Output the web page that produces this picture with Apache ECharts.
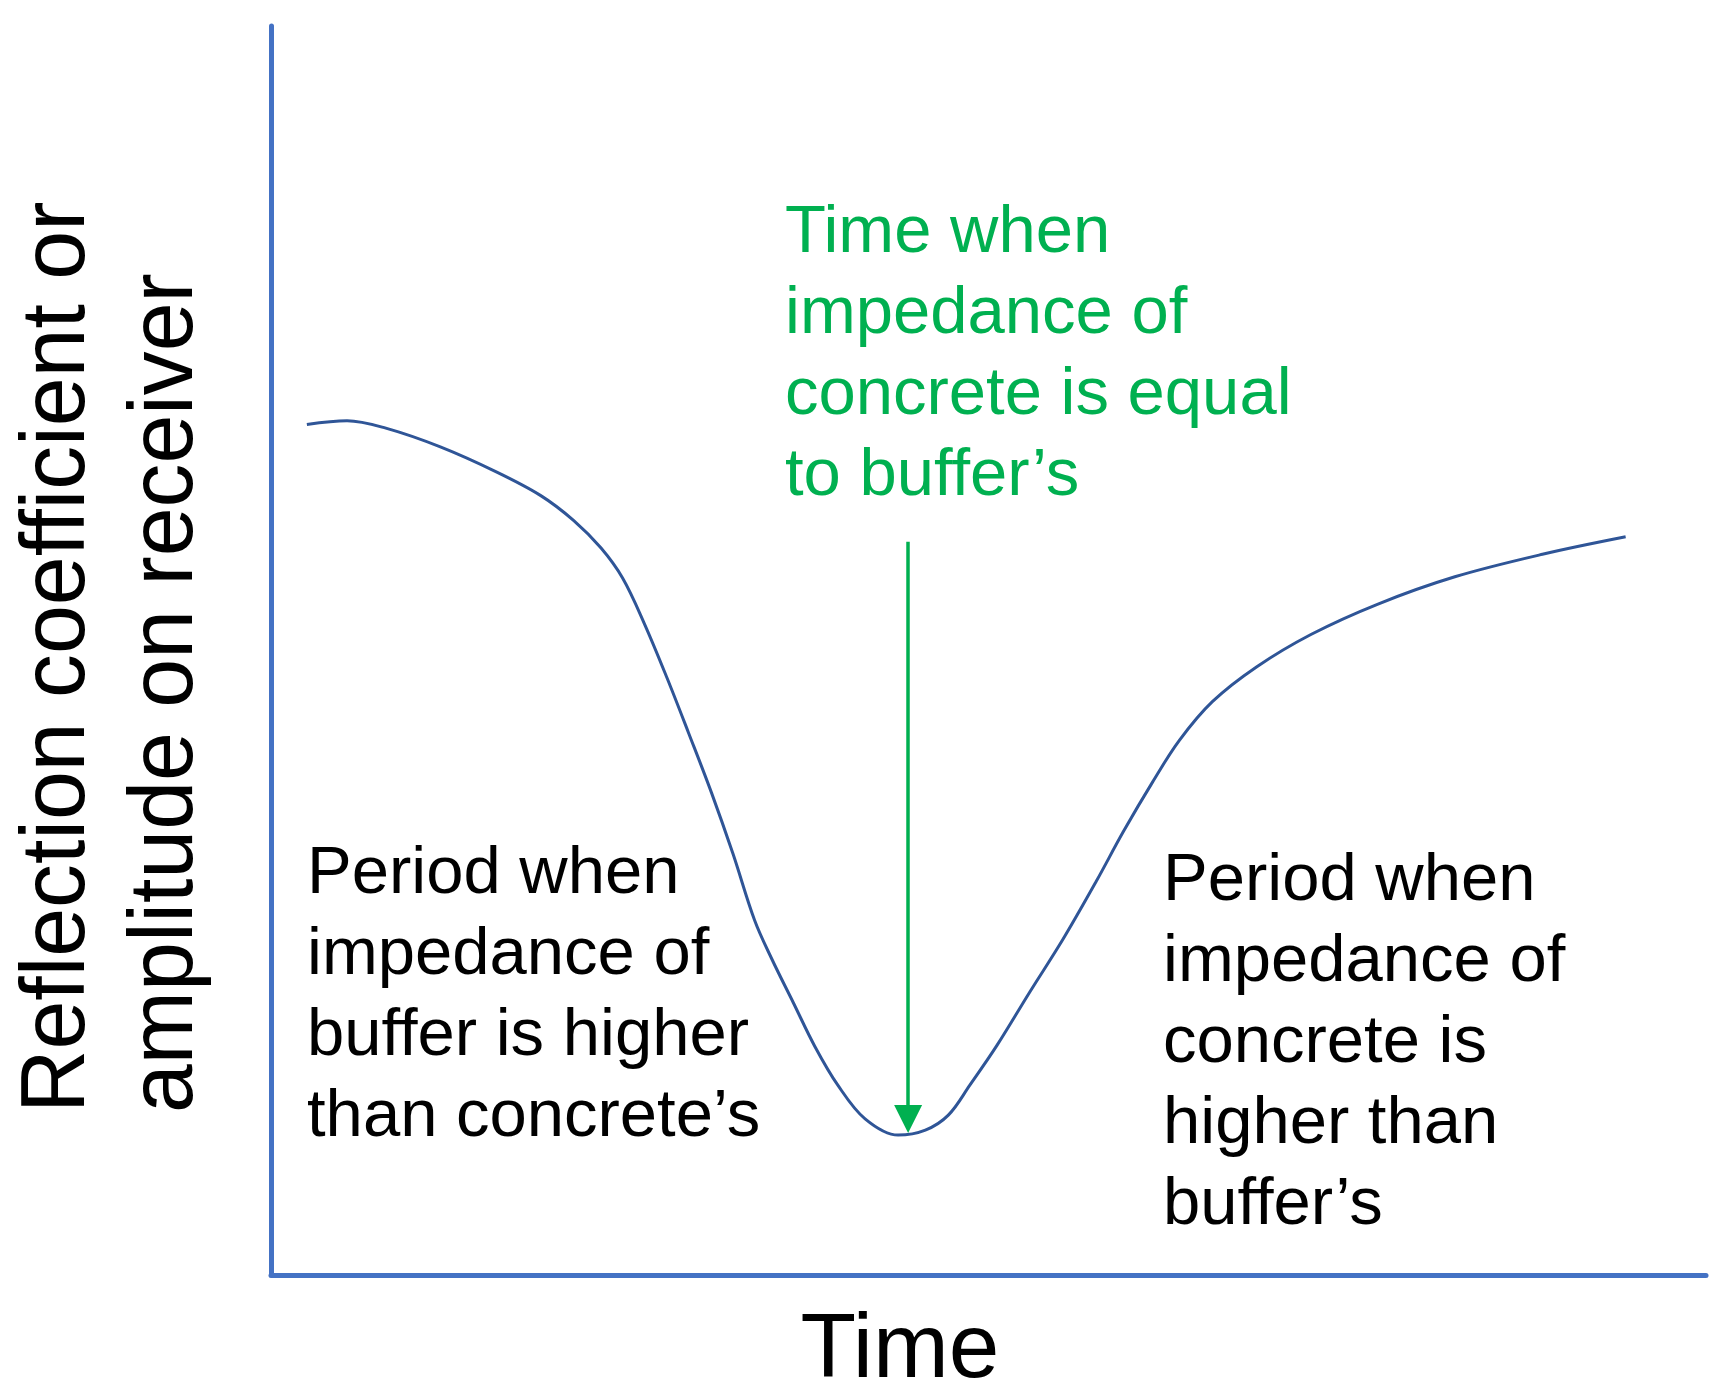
<!DOCTYPE html>
<html>
<head>
<meta charset="utf-8">
<title>Reflection coefficient vs time</title>
<script src="https://cdn.jsdelivr.net/npm/echarts@6/dist/echarts.min.js"></script>
<style>
  html, body { margin: 0; padding: 0; background: #fff; }
  #main { width: 1728px; height: 1400px; }
</style>
</head>
<body>
<div id="main"></div>
<script>
  // curve (time and amplitude in arbitrary units, 0-100)
  var timeVals = [2.5, 5.3, 8.0, 11.8, 15.7, 18.8, 21.1, 23.0, 24.5, 26.0, 27.6, 29.1, 30.7, 32.2, 33.7,
    34.9, 36.4, 37.9, 39.5, 41.4, 43.7, 45.6, 47.2, 48.7, 50.6, 52.9, 55.2, 57.5, 59.4, 61.4, 63.3,
    65.6, 68.7, 72.5, 77.1, 82.5, 88.6, 94.4]
  var ampVals = [68.1, 68.4, 67.8, 66.3, 64.3, 62.4, 60.4, 58.2, 55.8, 52.2, 47.8, 43.4, 38.6, 33.7, 28.4,
    25.3, 21.8, 18.3, 15.2, 12.5, 11.2, 11.6, 12.8, 15.2, 18.4, 22.7, 26.9, 31.5, 35.5, 39.4, 42.8,
    45.9, 48.7, 51.3, 53.7, 55.9, 57.7, 59.1]

  // green arrow: time where impedances match, from/to amplitude
  var arrowTime = 44.4
  var arrowFrom = 58.7
  var arrowTo = 12.5

  var yTitle = 'Reflection coefficient or\namplitude on receiver'
  var xTitle = 'Time'
  var noteEqual = 'Time when\nimpedance of\nconcrete is equal\nto buffer’s'
  var noteLeft = 'Period when\nimpedance of\nbuffer is higher\nthan concrete’s'
  var noteRight = 'Period when\nimpedance of\nconcrete is\nhigher than\nbuffer’s'

  var font = '"Liberation Sans", Arial, sans-serif'
  var axisBlue = '#4472C4'

  var points = timeVals.map(function (t, i) {
    return [t, ampVals[i]]
  })

  function note(text, x, y, color) {
    return {
      type: 'text',
      x: x,
      y: y,
      style: {
        text: text,
        fontFamily: font,
        fontSize: 67,
        lineHeight: 81,
        fill: color,
        align: 'left',
        verticalAlign: 'top',
      },
    }
  }

  var chart = echarts.init(document.getElementById('main'))

  var option = {
    animation: false,
    backgroundColor: '#fff',
    grid: {
      left: 271,
      right: 22,
      top: 26,
      bottom: 125,
    },
    xAxis: {
      type: 'value',
      min: 0,
      max: 100,
      axisLine: { show: true, lineStyle: { color: axisBlue, width: 5 } },
      axisTick: { show: false },
      axisLabel: { show: false },
      splitLine: { show: false },
    },
    yAxis: {
      type: 'value',
      min: 0,
      max: 100,
      axisLine: { show: true, lineStyle: { color: axisBlue, width: 5 } },
      axisTick: { show: false },
      axisLabel: { show: false },
      splitLine: { show: false },
    },
    series: [
      {
        type: 'line',
        data: points,
        smooth: 0.35,
        showSymbol: false,
        lineStyle: { color: '#2F5597', width: 3 },
        markLine: {
          silent: true,
          symbol: ['none', 'triangle'],
          symbolSize: [28, 28],
          label: { show: false },
          lineStyle: { color: '#00B050', width: 3.5, type: 'solid' },
          data: [
            [
              { coord: [arrowTime, arrowFrom] },
              { coord: [arrowTime, arrowTo] },
            ],
          ],
        },
      },
    ],
    graphic: [
      {
        type: 'text',
        x: 5,
        y: 1113,
        rotation: Math.PI / 2,
        scaleX: 0.976,
        style: {
          text: yTitle,
          fontFamily: font,
          fontSize: 90,
          lineHeight: 108,
          fill: '#000',
          align: 'left',
          verticalAlign: 'top',
        },
      },
      {
        type: 'text',
        x: 900,
        y: 1302,
        style: {
          text: xTitle,
          fontFamily: font,
          fontSize: 91,
          lineHeight: 100,
          fill: '#000',
          align: 'center',
          verticalAlign: 'top',
        },
      },
      note(noteEqual, 785, 193, '#00B050'),
      note(noteLeft, 307, 834, '#000'),
      note(noteRight, 1163, 841, '#000'),
    ],
  }

  chart.setOption(option)
</script>
</body>
</html>
